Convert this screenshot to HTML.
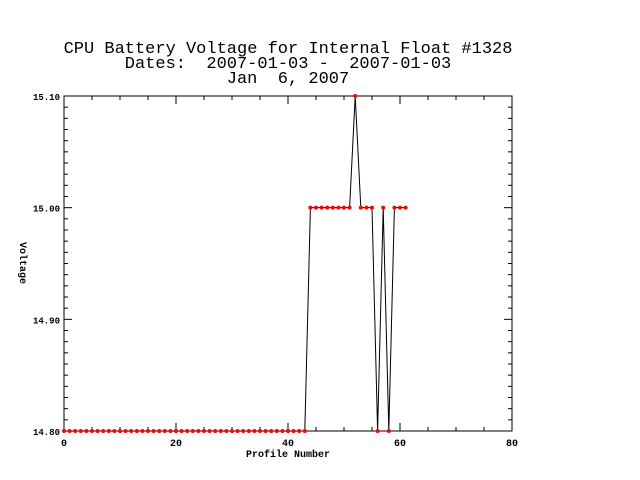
<!DOCTYPE html>
<html><head><meta charset="utf-8"><style>
body{margin:0;background:#fff}
svg{display:block}
text{font-family:"Liberation Mono",monospace}
.pre{white-space:pre}
</style></head><body>
<svg id="chart" width="640" height="480" viewBox="0 0 640 480" xmlns="http://www.w3.org/2000/svg" xml:space="preserve">
<rect width="640" height="480" fill="#fff"/>
<text class="pre" x="288" y="53" font-size="17" text-anchor="middle">CPU Battery Voltage for Internal Float #1328</text>
<text class="pre" x="288" y="68" font-size="17" text-anchor="middle">Dates:  2007-01-03 -  2007-01-03</text>
<text class="pre" x="288" y="83" font-size="17" text-anchor="middle">Jan  6, 2007</text>
<g id="axes"></g>
<g id="series"></g>
<text x="288" y="457" font-size="10" font-weight="bold" font-family="Liberation Serif" text-anchor="middle">Profile Number</text>
<text transform="translate(20,263) rotate(90)" font-size="10" font-weight="bold" font-family="Liberation Serif" text-anchor="middle">Voltage</text>
</svg>
<script>
const profiles=[];for(let i=0;i<=61;i++)profiles.push(i);
const voltages=[14.8,14.8,14.8,14.8,14.8,14.8,14.8,14.8,14.8,14.8,14.8,14.8,14.8,14.8,14.8,14.8,14.8,14.8,14.8,14.8,14.8,14.8,14.8,14.8,14.8,14.8,14.8,14.8,14.8,14.8,14.8,14.8,14.8,14.8,14.8,14.8,14.8,14.8,14.8,14.8,14.8,14.8,14.8,14.8,
15.0,15.0,15.0,15.0,15.0,15.0,15.0,15.0,15.1,15.0,15.0,15.0,14.8,15.0,14.8,15.0,15.0,15.0];
const xTicks=[0,20,40,60,80];
const yTicks=[14.80,14.90,15.00,15.10];
const yTickLabels=["14.80","14.90","15.00","15.10"];
const X0=64,X1=512,Y0=431,Y1=96;
const xs=v=>X0+(v-0)/80*(X1-X0);
const ys=v=>Y0-(v-14.8)/0.3*(Y0-Y1);
const NS="http://www.w3.org/2000/svg";
const ax=document.getElementById('axes'),se=document.getElementById('series');
function mk(tag,attrs,parent){const e=document.createElementNS(NS,tag);for(const k in attrs)e.setAttribute(k,attrs[k]);parent.appendChild(e);return e;}
const frame=mk('rect',{x:X0,y:Y1,width:X1-X0,height:Y0-Y1,fill:'none',stroke:'#000','stroke-width':1},ax);


for(let v=0;v<=80;v+=5){const x=xs(v);const L=(v%20===0)?8:4;
 mk('line',{x1:x,y1:Y0,x2:x,y2:Y0-L,stroke:'#000'},ax);
 mk('line',{x1:x,y1:Y1,x2:x,y2:Y1+L,stroke:'#000'},ax);}
for(let i=0;i<=30;i++){const v=14.8+i*0.01;const y=ys(v);const L=(i%10===0)?8:4;
 mk('line',{x1:X0,y1:y,x2:X0+L,y2:y,stroke:'#000'},ax);
 mk('line',{x1:X1,y1:y,x2:X1-L,y2:y,stroke:'#000'},ax);}
xTicks.forEach(v=>{const t=mk('text',{x:xs(v),y:Y0+15,'font-size':10,'font-weight':'bold','font-family':'Liberation Serif','text-anchor':'middle'},ax);t.textContent=v;
 
 });
yTicks.forEach((v,i)=>{const t=mk('text',{x:X0-4,y:ys(v)+4,'font-size':9,'font-weight':'bold','font-family':'Liberation Serif','text-anchor':'end'},ax);t.textContent=yTickLabels[i];
 
 });
const line=mk('polyline',{points:profiles.map((p,i)=>xs(p)+','+ys(voltages[i])).join(' '),fill:'none',stroke:'#000','stroke-width':1},se);


profiles.forEach((p,i)=>{const c=mk('circle',{cx:xs(p),cy:ys(voltages[i]),r:2,fill:'#f00'},se);
 
 });
</script>
</body></html>
